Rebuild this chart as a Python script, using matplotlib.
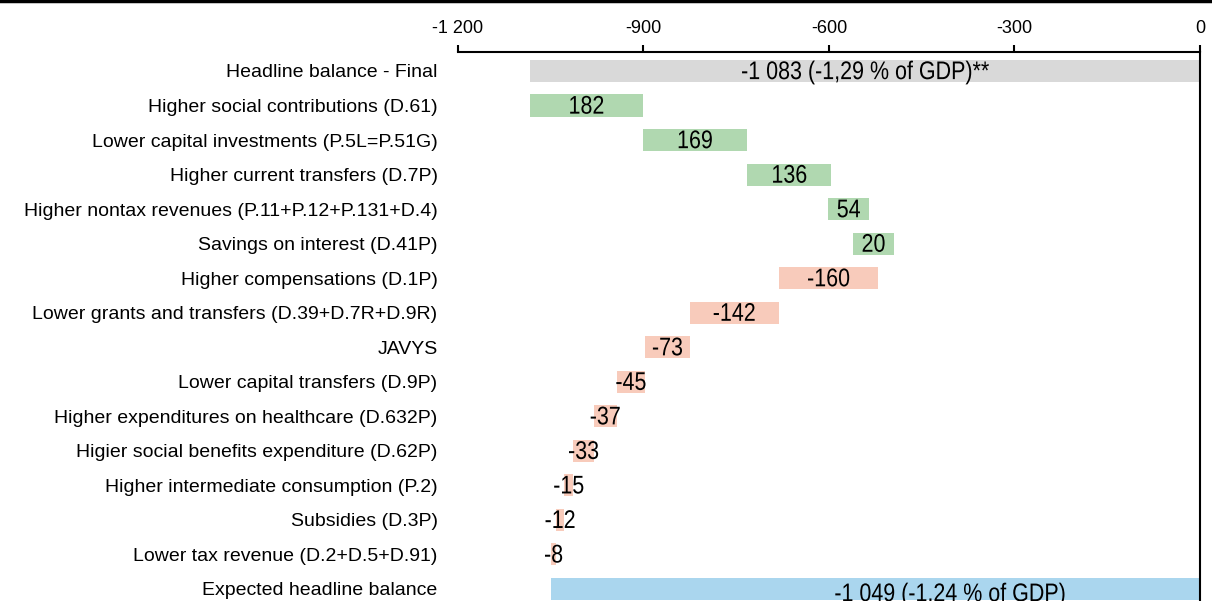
import matplotlib
matplotlib.use("Agg")
import matplotlib.pyplot as plt
from matplotlib.lines import Line2D
from matplotlib.patheffects import AbstractPathEffect
from matplotlib.transforms import Affine2D

categories = [
    "Headline balance - Final",
    "Higher social contributions (D.61)",
    "Lower capital investments (P.5L=P.51G)",
    "Higher current transfers (D.7P)",
    "Higher nontax revenues (P.11+P.12+P.131+D.4)",
    "Savings on interest (D.41P)",
    "Higher compensations (D.1P)",
    "Lower grants and transfers (D.39+D.7R+D.9R)",
    "JAVYS",
    "Lower capital transfers (D.9P)",
    "Higher expenditures on healthcare (D.632P)",
    "Higier social benefits expenditure (D.62P)",
    "Higher intermediate consumption (P.2)",
    "Subsidies (D.3P)",
    "Lower tax revenue (D.2+D.5+D.91)",
    "Expected headline balance",
]
value_labels = ["-1 083 (-1,29 % of GDP)**", "182", "169", "136", "54", "20",
                "-160", "-142", "-73", "-45", "-37", "-33", "-15", "-12", "-8",
                "-1 049 (-1,24 % of GDP)"]
# bar extents (as drawn in the reference)
bar_from = [0, -1083, -901, -732, -601, -561, -520, -681, -825, -897, -943, -980, -1013, -1028, -1041, 0]
bar_to = [-1083, -901, -732, -596, -535, -495, -681, -825, -897, -943, -980, -1013, -1028, -1041, -1049, -1049]
kinds = ["total", "pos", "pos", "pos", "pos", "pos", "neg", "neg", "neg", "neg",
         "neg", "neg", "neg", "neg", "neg", "expected"]
xticks = [-1200, -900, -600, -300, 0]
xtick_labels = ["-1 200", "-900", "-600", "-300", "0"]

colors = {"total": "#D9D9D9", "pos": "#B0D8B0", "neg": "#F8CBBB", "expected": "#AAD6EE"}


class SqueezeX(AbstractPathEffect):
    """Draw text narrower (like a 'Narrow' font) around its own centre."""
    def __init__(self, factor):
        super().__init__()
        self.factor = factor

    def draw_path(self, renderer, gc, tpath, affine, rgbFace=None):
        ext = tpath.get_extents(affine)
        cx = (ext.x0 + ext.x1) / 2
        aff = affine + Affine2D().translate(-cx, 0).scale(self.factor, 1).translate(cx, 0)
        renderer.draw_path(gc, tpath, aff, rgbFace)


W, H = 1212, 601
fig = plt.figure(figsize=(W / 100, H / 100), dpi=100)
ax = fig.add_axes([457.7 / W, 0, (1200.1 - 457.7) / W, 1 - 52 / H])

ys = list(range(len(categories)))
for y, a, b, k, lab in zip(ys, bar_from, bar_to, kinds, value_labels):
    left = min(a, b)
    width = abs(b - a)
    ax.barh(y, width, left=left, height=0.64, color=colors[k], zorder=2)
    xc = left + width / 2
    ty = y - 0.04
    if k == "expected":
        xc = -404
        ty = y + 0.08
    ax.text(xc, ty, lab, ha="center", va="center_baseline",
            fontsize=18.4, family="Liberation Sans", color="black", zorder=3,
            path_effects=[SqueezeX(0.84)])

ax.set_xlim(-1200, 0)
ax.set_ylim(15.35, -0.55)
ax.set_yticks(ys)
ax.set_yticklabels(categories, fontsize=14, family="Liberation Sans")
ax.tick_params(axis="y", length=0, pad=14.5)
ax.xaxis.tick_top()
ax.set_xticks(xticks)
ax.set_xticklabels(xtick_labels, fontsize=13, family="Liberation Sans")
ax.tick_params(axis="x", length=5, width=1.5, direction="out", pad=6)
for s in ["left", "bottom"]:
    ax.spines[s].set_visible(False)
ax.spines["top"].set_linewidth(1.5)
ax.spines["right"].set_linewidth(1.5)

fig.add_artist(Line2D([0, 1], [1 - 1 / H, 1 - 1 / H], transform=fig.transFigure,
                      color="black", linewidth=2.5))

fig.savefig("out.png", dpi=100)
